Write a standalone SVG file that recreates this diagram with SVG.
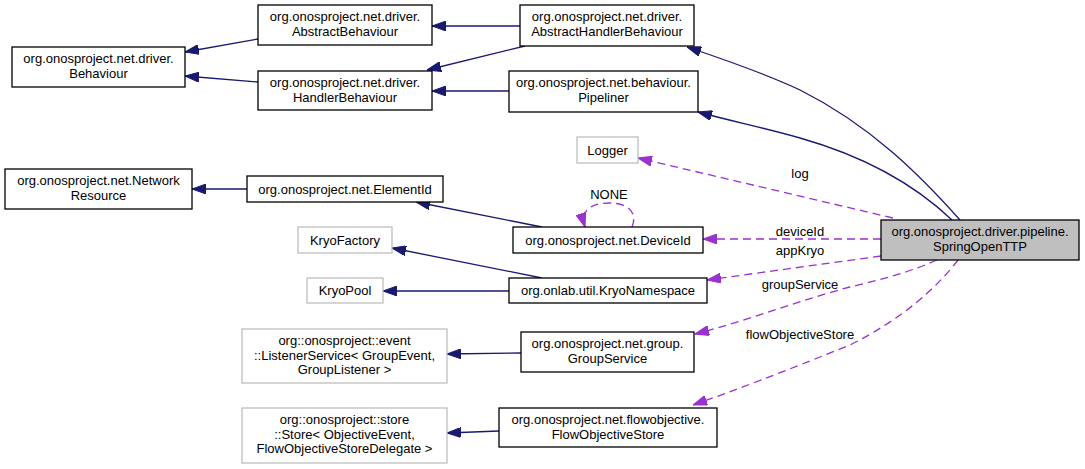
<svg xmlns="http://www.w3.org/2000/svg" width="1085" height="469" viewBox="0 0 1085 469">
<style>
text{font-family:"Liberation Sans",Arial,sans-serif;font-size:13px;fill:#000}
.n rect{fill:#fff;stroke:#000;stroke-width:1.3}
.u rect{fill:#fff;stroke:#bfbfbf;stroke-width:1.3}
.m text,.n text,.u text{text-anchor:middle}
.inh{fill:none;stroke:#191970;stroke-width:1.3}
.use{fill:none;stroke:#9a32cd;stroke-width:1.3;stroke-dasharray:8,5}
.lbl{text-anchor:middle}
</style>
<defs>
<marker id="ab" viewBox="0 0 14 10" refX="14" refY="5" markerWidth="14" markerHeight="10" markerUnits="userSpaceOnUse" orient="auto"><path d="M0,0L14,5L0,10z" fill="#191970" stroke="#191970"/></marker>
<marker id="ap" viewBox="0 0 14 10" refX="14" refY="5" markerWidth="14" markerHeight="10" markerUnits="userSpaceOnUse" orient="auto"><path d="M0,0L14,5L0,10z" fill="#9a32cd" stroke="#9a32cd"/></marker>
</defs>
<rect width="1085" height="469" fill="#fff"/>
<g id="edges">
<path class="inh" d="M258,39L185,52" marker-end="url(#ab)"/>
<path class="inh" d="M258,82L185,76" marker-end="url(#ab)"/>
<path class="inh" d="M520,26L432,26" marker-end="url(#ab)"/>
<path class="inh" d="M525,46L427,70" marker-end="url(#ab)"/>
<path class="inh" d="M509,91L432,91" marker-end="url(#ab)"/>
<path class="inh" d="M960,220C920,175 870,125 800,90C770,76 735,63 687,47" marker-end="url(#ab)"/>
<path class="inh" d="M952,220C910,180 860,155 800,138C765,128 735,122 698,112" marker-end="url(#ab)"/>
<path class="inh" d="M247,189L192,189" marker-end="url(#ab)"/>
<path class="inh" d="M542,227L416,202" marker-end="url(#ab)"/>
<path class="inh" d="M542,278L392,248" marker-end="url(#ab)"/>
<path class="inh" d="M509,291L383,291" marker-end="url(#ab)"/>
<path class="inh" d="M521,353L447,354" marker-end="url(#ab)"/>
<path class="inh" d="M499,431L447,433" marker-end="url(#ab)"/>
<path class="use" d="M893,218L638,158" marker-end="url(#ap)"/>
<path class="use" d="M881,239L703,239" marker-end="url(#ap)"/>
<path class="use" d="M881,256L707,280" marker-end="url(#ap)"/>
<path class="use" d="M937,260C910,272 880,280 850,287C800,300 750,320 695,334" marker-end="url(#ap)"/>
<path class="use" d="M958,260C935,290 900,320 850,345C800,365 750,385 693,405" marker-end="url(#ap)"/>
<path class="use" d="M632,227C638,212 628,203 609,203C590,203 580,211 585,227" marker-end="url(#ap)"/>
<text class="lbl" x="800" y="178">log</text>
<text class="lbl" x="800" y="236">deviceId</text>
<text class="lbl" x="800" y="255">appKryo</text>
<text class="lbl" x="800" y="289">groupService</text>
<text class="lbl" x="800" y="339">flowObjectiveStore</text>
<text class="lbl" x="609" y="199">NONE</text>
</g>
<g id="SpringOpenTTP" class="n"><rect x="881" y="220" width="198" height="40" style="fill:#bfbfbf"/><text x="980" y="236">org.onosproject.driver.pipeline.</text><text x="980" y="250.5">SpringOpenTTP</text></g>
<g id="Behaviour" class="n"><rect x="12" y="47" width="173" height="40"/><text x="98.5" y="63">org.onosproject.net.driver.</text><text x="98.5" y="77.5">Behaviour</text></g>
<g id="AbstractBehaviour" class="n"><rect x="258" y="5" width="174" height="40"/><text x="345" y="21">org.onosproject.net.driver.</text><text x="345" y="35.5">AbstractBehaviour</text></g>
<g id="HandlerBehaviour" class="n"><rect x="258" y="71" width="174" height="39"/><text x="345" y="87">org.onosproject.net.driver.</text><text x="345" y="101.5">HandlerBehaviour</text></g>
<g id="AbstractHandlerBehaviour" class="n"><rect x="520" y="5" width="174" height="41"/><text x="607" y="21">org.onosproject.net.driver.</text><text x="607" y="35.5">AbstractHandlerBehaviour</text></g>
<g id="Pipeliner" class="n"><rect x="509" y="71" width="189" height="41"/><text x="603.5" y="87">org.onosproject.net.behaviour.</text><text x="603.5" y="101.5">Pipeliner</text></g>
<g id="Logger" class="u"><rect x="577" y="137" width="61" height="26"/><text x="607.5" y="154.5">Logger</text></g>
<g id="NetworkResource" class="n"><rect x="5" y="169" width="187" height="40"/><text x="98.5" y="185">org.onosproject.net.Network</text><text x="98.5" y="199.5">Resource</text></g>
<g id="ElementId" class="n"><rect x="247" y="176" width="196" height="26"/><text x="345" y="193.5">org.onosproject.net.ElementId</text></g>
<g id="DeviceId" class="n"><rect x="513" y="227" width="190" height="26"/><text x="608" y="244.5">org.onosproject.net.DeviceId</text></g>
<g id="KryoFactory" class="u"><rect x="298" y="227" width="94" height="26"/><text x="345" y="244.5">KryoFactory</text></g>
<g id="KryoPool" class="u"><rect x="307" y="278" width="76" height="25"/><text x="345" y="295">KryoPool</text></g>
<g id="KryoNamespace" class="n"><rect x="509" y="278" width="198" height="25"/><text x="608" y="295">org.onlab.util.KryoNamespace</text></g>
<g id="ListenerService" class="u"><rect x="242" y="329" width="205" height="54"/><text x="344.5" y="345">org::onosproject::event</text><text x="344.5" y="359.5">::ListenerService&lt; GroupEvent,</text><text x="344.5" y="374">GroupListener &gt;</text></g>
<g id="GroupService" class="n"><rect x="521" y="332" width="173" height="40"/><text x="607.5" y="348">org.onosproject.net.group.</text><text x="607.5" y="362.5">GroupService</text></g>
<g id="Store" class="u"><rect x="242" y="408" width="205" height="55"/><text x="344.5" y="424">org::onosproject::store</text><text x="344.5" y="438.5">::Store&lt; ObjectiveEvent,</text><text x="344.5" y="453">FlowObjectiveStoreDelegate &gt;</text></g>
<g id="FlowObjectiveStore" class="n"><rect x="499" y="408" width="218" height="39"/><text x="608" y="424">org.onosproject.net.flowobjective.</text><text x="608" y="438.5">FlowObjectiveStore</text></g>
</svg>
